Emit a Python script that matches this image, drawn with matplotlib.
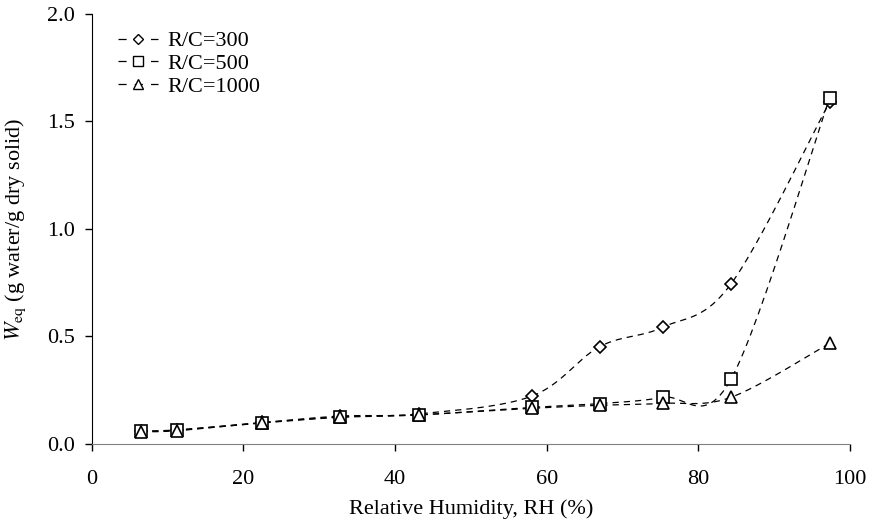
import numpy as np
import matplotlib
matplotlib.use("Agg")
import matplotlib.pyplot as plt
from matplotlib.lines import Line2D

rh = [6.5, 11.3, 22.5, 32.8, 43.2, 58.0, 67.0, 75.3, 84.3, 97.3]
w_300 = [0.060, 0.066, 0.100, 0.130, 0.140, 0.222, 0.453, 0.543, 0.744, 1.590]
w_500 = [0.060, 0.064, 0.098, 0.124, 0.135, 0.170, 0.188, 0.217, 0.301, 1.608]
w_1000 = [0.057, 0.062, 0.099, 0.126, 0.136, 0.166, 0.180, 0.189, 0.217, 0.468]
labels = ["R/C=300", "R/C=500", "R/C=1000"]
markers = ["D", "s", "^"]
msizes = [6.2, 8.6, 8.6]

plt.rcParams["font.family"] = ["Liberation Serif", "DejaVu Serif"]
plt.rcParams["mathtext.fontset"] = "stix"


def smooth(x, y, n=30):
    # Catmull-Rom style Bezier smoothing (like spreadsheet smoothed lines)
    x = np.asarray(x, float); y = np.asarray(y, float)
    P = np.column_stack([x, y])
    out = []
    m = len(P)
    for i in range(m - 1):
        p0 = P[i - 1] if i > 0 else P[i]
        p1 = P[i]
        p2 = P[i + 1]
        p3 = P[i + 2] if i + 2 < m else P[i + 1]
        c1 = p1 + (p2 - p0) / 6.0
        c2 = p2 - (p3 - p1) / 6.0
        t = np.linspace(0, 1, n)[:, None]
        seg = ((1 - t) ** 3) * p1 + 3 * ((1 - t) ** 2) * t * c1 + 3 * (1 - t) * t ** 2 * c2 + t ** 3 * p2
        out.append(seg if i == 0 else seg[1:])
    s = np.vstack(out)
    return s[:, 0], s[:, 1]


fig = plt.figure(figsize=(8.7, 5.27), dpi=100)
ax = fig.add_axes([0.1054, 0.1575, 0.8716, 0.816])

handles = []
for ys, mk, ms, lab in zip([w_300, w_500, w_1000], markers, msizes, labels):
    sx, sy = smooth(rh, ys)
    ax.plot(sx, sy, color="black", lw=0.9, ls=(0, (5, 4)), zorder=2)
    ax.plot(rh, ys, ls="none", marker=mk, ms=ms, mfc="white", mec="black", mew=1.2, zorder=3)
    handles.append(Line2D([], [], color="black", lw=0.9, ls=(0, (6.5, 6.5)), marker=mk, ms=ms * 0.85,
                          mfc="white", mec="black", mew=1.0, label=lab))

ax.set_xlim(0, 100)
ax.set_ylim(0, 2.0)
ax.set_xticks([0, 20, 40, 60, 80, 100])
ax.set_yticks([0.0, 0.5, 1.0, 1.5, 2.0])
ax.set_yticklabels(["0.0", "0.5", "1.0", "1.5", "2.0"])
ax.spines["top"].set_visible(False)
ax.spines["right"].set_visible(False)
ax.spines["bottom"].set_color("#808080")
ax.spines["left"].set_color("black")
ax.tick_params(direction="out", length=5, width=1, labelsize=16, colors="black")
ax.tick_params(axis="x", pad=14)
ax.tick_params(axis="y", pad=7)
ax.set_xlabel("Relative Humidity, RH (%)", fontsize=16, labelpad=7)
ax.set_ylabel(r"$\mathit{W}_{\mathrm{eq}}$ (g water/g dry solid)", fontsize=16, labelpad=14)

leg = ax.legend(handles=handles, loc="upper left", bbox_to_anchor=(0.035, 0.961), frameon=False,
                borderaxespad=0, borderpad=0,
                fontsize=16, handlelength=1.8, handletextpad=0.4, labelspacing=0.1)

fig.savefig("out.png", dpi=100)
